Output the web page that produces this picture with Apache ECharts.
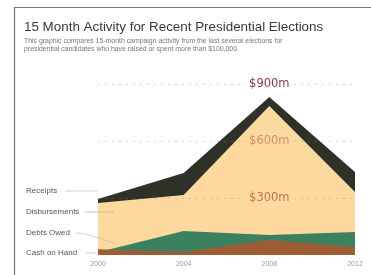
<!DOCTYPE html>
<html>
<head>
<meta charset="utf-8">
<script src="https://cdn.jsdelivr.net/npm/echarts@6/dist/echarts.min.js"></script>
<style>
  html, body { margin: 0; padding: 0; background: #fff; }
  #chart { width: 371px; height: 275px; }
</style>
</head>
<body>
<div id="chart"></div>
<script>
// data ($ millions, 15-month activity)
var years = ['2000', '2004', '2008', '2012'];
var receipts = [295, 432, 832, 437];
var disbursements = [274, 316, 784, 332];
var debtsOwed = [15, 126, 105, 121];
var cashOnHand = [30, 16, 79, 42];
var gridValues = [300, 600, 900];
var gridLabels = ['$300m', '$600m', '$900m'];
var seriesNames = ['Receipts', 'Disbursements', 'Debts Owed', 'Cash on Hand'];

var chart = echarts.init(document.getElementById('chart'));

function area(name, data, color, z) {
  return {
    name: name,
    type: 'line',
    data: data,
    symbol: 'none',
    z: z,
    lineStyle: { width: 0 },
    areaStyle: { color: color, opacity: 1 }
  };
}

var labelBg = ['#fdd9a0', '#fdd9a0', '#fff'];
var labelColor = ['#c4764c', '#d0916a', '#8a3a46'];

var refSeries = area('Receipts', receipts, '#2e3128', 1);
refSeries.markLine = {
  silent: true,
  symbol: 'none',
  label: { show: false },
  lineStyle: { type: [2, 5], color: 'rgba(190,120,90,0.35)', width: 1.2 },
  data: gridValues.map(function (v) { return { yAxis: v }; }),
  z: 10
};
refSeries.markPoint = {
  silent: true,
  symbol: 'rect',
  symbolSize: 0,
  z: 11,
  data: gridValues.map(function (v, i) {
    return {
      coord: ['2008', v],
      label: {
        show: true,
        formatter: gridLabels[i],
        fontFamily: 'DejaVu Sans',
        fontSize: 11.5,
        color: labelColor[i],
        backgroundColor: labelBg[i],
        padding: [0, 3]
      }
    };
  })
};

var option = {
  animation: false,
  title: {
    left: 19,
    top: 16,
    itemGap: 3,
    text: '15 Month Activity for Recent Presidential Elections',
    textStyle: { fontFamily: 'Liberation Sans', fontSize: 13.4, fontWeight: 'normal', color: '#3a3a3a' },
    subtext: 'This graphic compares 15-month campaign activity from the last several elections for\npresidential candidates who have raised or spent more than $100,000.',
    subtextStyle: { fontFamily: 'Liberation Sans', fontSize: 6.9, lineHeight: 8, color: '#777' }
  },
  grid: { left: 98, right: 16, top: 84, bottom: 20 },
  xAxis: {
    type: 'category',
    data: years,
    boundaryGap: false,
    axisLine: { show: false },
    axisTick: { show: false },
    axisLabel: { fontSize: 7, color: '#999', margin: 6 }
  },
  yAxis: {
    type: 'value',
    min: 0,
    max: 900,
    interval: 300,
    show: false,
    splitLine: { show: false }
  },
  series: [
    refSeries,
    area('Disbursements', disbursements, '#fdd9a0', 2),
    area('Debts Owed', debtsOwed, '#3b8160', 3),
    area('Cash on Hand', cashOnHand, '#9e5c34', 4)
  ],
  graphic: [
    { type: 'polyline', shape: { points: [[14.5, 275], [14.5, 7.5], [371, 7.5]] }, style: { stroke: '#777', lineWidth: 1.2, fill: null } },
    { type: 'text', left: 26, top: 187, style: { text: seriesNames[0], fontSize: 8, fill: '#555' } },
    { type: 'text', left: 26, top: 208, style: { text: seriesNames[1], fontSize: 8, fill: '#555' } },
    { type: 'text', left: 26, top: 229, style: { text: seriesNames[2], fontSize: 8, fill: '#555' } },
    { type: 'text', left: 26, top: 249, style: { text: seriesNames[3], fontSize: 8, fill: '#555' } },
    { type: 'polyline', z: 20, shape: { points: [[65, 191], [98, 191]] }, style: { stroke: '#bbb', lineWidth: 0.7, fill: null } },
    { type: 'polyline', z: 20, shape: { points: [[84, 212], [114, 212]] }, style: { stroke: '#c9b08a', lineWidth: 0.7, fill: null } },
    { type: 'polyline', z: 20, shape: { points: [[76, 233], [86, 234], [115, 243]] }, style: { stroke: '#bbb', lineWidth: 0.7, fill: null } },
    { type: 'polyline', z: 20, shape: { points: [[86, 253], [97, 253]] }, style: { stroke: '#bbb', lineWidth: 0.7, fill: null } }
  ]
};

chart.setOption(option);
</script>
</body>
</html>
